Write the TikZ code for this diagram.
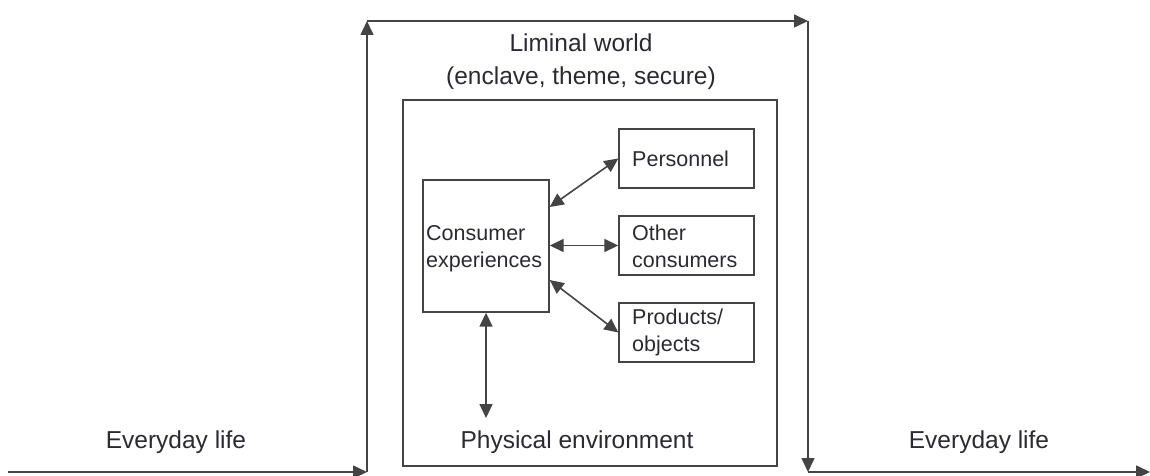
\documentclass[tikz,border=0pt]{standalone}
\usepackage{fontspec}
\setmainfont{Liberation Sans}
\usetikzlibrary{arrows.meta}
\definecolor{ln}{HTML}{444444}
\definecolor{tx}{HTML}{2A2A34}
\begin{document}
\begin{tikzpicture}[x=1pt,y=-1pt,
  tip/.tip={Triangle[length=14pt,width=13pt]},
  arr/.style={draw=ln,line width=1.6pt,-tip},
  darr/.style={draw=ln,line width=1.6pt,tip-tip},
  box/.style={draw=ln,line width=1.4pt,rectangle,inner sep=0pt},
  big/.style={text=tx,font=\fontsize{24.5}{33}\selectfont,align=center,inner sep=0pt},
  small/.style={text=tx,font=\fontsize{21.5}{27}\selectfont,align=left,inner sep=0pt}]
\useasboundingbox (0,0) rectangle (1150,476);
% outer path
\coordinate (a) at (8,472);
\coordinate (b) at (367,472);
\coordinate (c) at (367,21);
\coordinate (d) at (808,21);
\coordinate (e) at (808,472);
\coordinate (f) at (1150,472);
\draw[arr] (a) -- (b);
\draw[arr] (b) -- (c);
\draw[arr] (c) -- (d);
\draw[arr] (d) -- (e);
\draw[arr] (e) -- (f);
\node[big] (ev1) at (176,442) {Everyday life};
\node[big] (ev2) at (979,442) {Everyday life};
\node[big] (lim) at (581,62) {Liminal world\\(enclave, theme, secure)};
% inner box
\node[box,minimum width=374pt,minimum height=366pt] (world) at (590,283) {};
\node[big] (phys) at (577,442) {Physical environment};
% consumer experiences
\node[box,minimum width=126pt,minimum height=132pt] (ce) at (486,246) {};
\node[small,anchor=west] (cet) at (426,249) {Consumer\\experiences};
\node[box,minimum width=135pt,minimum height=59pt] (pers) at (686.5,158.5) {};
\node[box,minimum width=135pt,minimum height=59pt] (oth) at (686.5,245.5) {};
\node[box,minimum width=135pt,minimum height=59pt] (prod) at (686.5,332.5) {};
\node[small,anchor=west] (perst) at (632,159) {Personnel};
\node[small,anchor=west] (otht) at (632,246) {Other\\consumers};
\node[small,anchor=west] (prodt) at (632,332) {Products/\\objects};
% arrows
\coordinate (pe) at (486,418);
\draw[darr] ([yshift=39pt]ce.east) -- (pers.west);
\draw[darr] (ce.east |- oth.west) -- (oth.west);
\draw[darr] ([yshift=-34pt]ce.east) -- (prod.west);
\draw[darr] (ce.south -| pe) -- (pe);
\end{tikzpicture}
\end{document}
